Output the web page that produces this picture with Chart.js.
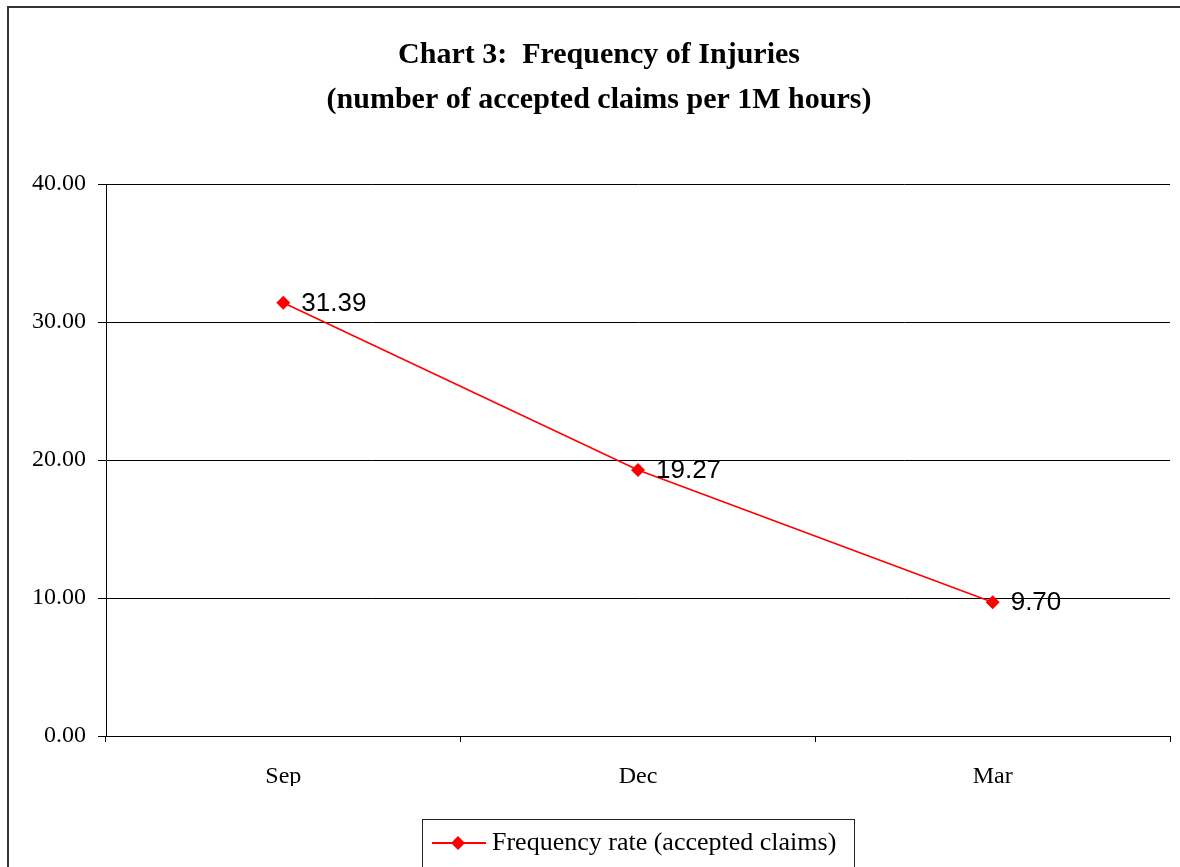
<!DOCTYPE html>
<html>
<head>
<meta charset="utf-8">
<script src="https://cdn.jsdelivr.net/npm/chart.js@4.4.0/dist/chart.umd.min.js"></script>
<style>
  html, body { margin: 0; padding: 0; background: #fff; }
  #wrap { width: 1180px; height: 867px; position: relative; }
</style>
</head>
<body>
<div id="wrap"><canvas id="c" width="1180" height="867"></canvas></div>
<script>
const categories = ['Sep', 'Dec', 'Mar'];
const frequencyRate = [31.39, 19.27, 9.70];
const seriesName = 'Frequency rate (accepted claims)';
const titleLines = ['Chart 3:  Frequency of Injuries', '(number of accepted claims per 1M hours)'];
const yTicks = [0, 10, 20, 30, 40];

const SERIF = '"Liberation Serif", "Times New Roman", serif';
const SANS = '"Liberation Sans", Arial, sans-serif';
const RED = '#ff0000';

function diamond(ctx, x, y, r) {
  ctx.beginPath();
  ctx.moveTo(x, y - r); ctx.lineTo(x + r, y); ctx.lineTo(x, y + r); ctx.lineTo(x - r, y);
  ctx.closePath(); ctx.fill();
}

const decorPlugin = {
  id: 'decor',
  afterDraw(chart) {
    const ctx = chart.ctx;
    ctx.save();
    // outer frame
    ctx.strokeStyle = '#333';
    ctx.lineWidth = 2;
    ctx.strokeRect(8, 7, 1200, 900);
    // title
    ctx.fillStyle = '#000';
    ctx.font = 'bold 30px ' + SERIF;
    ctx.textAlign = 'center';
    ctx.textBaseline = 'alphabetic';
    ctx.fillText(titleLines[0], 599, 63);
    ctx.fillText(titleLines[1], 599, 108);
    // data labels
    const meta = chart.getDatasetMeta(0);
    ctx.font = '26px ' + SANS;
    ctx.textAlign = 'left';
    ctx.textBaseline = 'middle';
    meta.data.forEach((pt, i) => {
      ctx.fillText(frequencyRate[i].toFixed(2), pt.x + 18, pt.y + 1);
    });
    // legend
    const lx = 422, ly = 819, lw = 432, lh = 60;
    ctx.strokeStyle = '#222';
    ctx.lineWidth = 1;
    ctx.strokeRect(lx + 0.5, ly + 0.5, lw, lh);
    const cy = 843;
    ctx.strokeStyle = RED;
    ctx.lineWidth = 2;
    ctx.beginPath(); ctx.moveTo(432, cy); ctx.lineTo(486, cy); ctx.stroke();
    ctx.fillStyle = RED;
    diamond(ctx, 458, cy, 7);
    ctx.fillStyle = '#000';
    ctx.font = '26px ' + SERIF;
    ctx.textAlign = 'left';
    ctx.textBaseline = 'middle';
    ctx.fillText(seriesName, 492, cy);
    ctx.restore();
  }
};

new Chart(document.getElementById('c'), {
  type: 'line',
  data: {
    labels: categories,
    datasets: [{
      label: seriesName,
      data: frequencyRate,
      borderColor: RED,
      backgroundColor: RED,
      borderWidth: 1.6,
      pointStyle: 'rectRot',
      pointRadius: 7,
      pointBorderWidth: 0,
      pointBackgroundColor: RED,
      tension: 0
    }]
  },
  options: {
    responsive: false,
    animation: false,
    devicePixelRatio: 1,
    layout: { padding: { top: 184, left: 0, right: 10, bottom: 81 } },
    plugins: { legend: { display: false }, title: { display: false }, tooltip: { enabled: false } },
    scales: {
      x: {
        offset: true,
        afterFit(s) { s.height = 50; },
        grid: { offset: true, drawOnChartArea: false, drawTicks: true, tickLength: 6, color: '#000', lineWidth: 1 },
        border: { display: true, color: '#000', width: 1 },
        ticks: { color: '#000', font: { family: SERIF, size: 24 }, padding: 20 }
      },
      y: {
        min: 0, max: 40,
        afterFit(s) { s.width = 106; },
        afterBuildTicks(s) { s.ticks = yTicks.map(v => ({ value: v })); },
        grid: { color: '#000', lineWidth: 1, tickLength: 8, drawTicks: true },
        border: { display: true, color: '#000', width: 1 },
        ticks: { color: '#000', font: { family: SERIF, size: 24 }, padding: 12, callback: v => Number(v).toFixed(2) }
      }
    }
  },
  plugins: [decorPlugin]
});
</script>
</body>
</html>
